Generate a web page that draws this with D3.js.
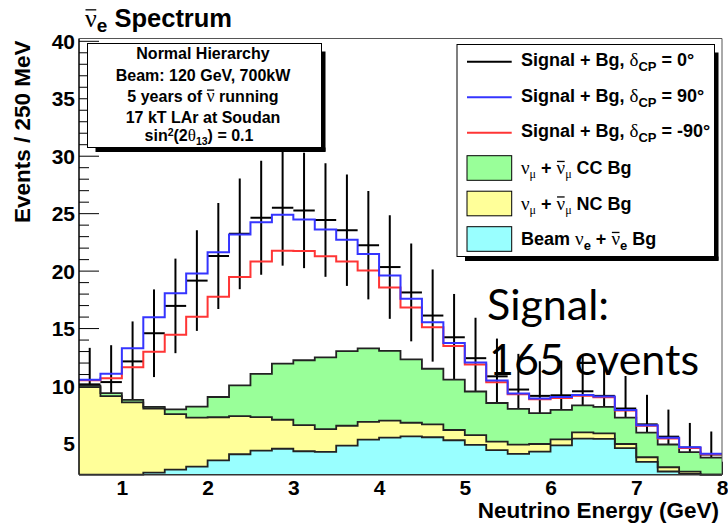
<!DOCTYPE html>
<html>
<head>
<meta charset="utf-8">
<script src="https://cdn.jsdelivr.net/npm/d3@7"></script>
<style>
  html, body { margin: 0; padding: 0; background: #fff; }
  svg { display: block; }
</style>
</head>
<body>
<svg id="chart" width="728" height="525"></svg>
<script>
// ---- Binning: 30 bins of 250 MeV between 0.5 and 8 GeV ----
const binEdges = [0.5, 0.75, 1.0, 1.25, 1.5, 1.75, 2.0, 2.25, 2.5, 2.75, 3.0, 3.25, 3.5, 3.75,
  4.0, 4.25, 4.5, 4.75, 5.0, 5.25, 5.5, 5.75, 6.0, 6.25, 6.5, 6.75, 7.0, 7.25, 7.5, 7.75, 8.0];

// ---- Background components (events per bin) ----
const beamNueBg = [1.0, 1.3, 1.8, 2.42, 2.68, 2.94, 3.49, 4.02, 4.34, 4.50, 4.28, 4.23, 4.77, 5.29, 5.46,
  5.58, 5.50, 5.24, 4.83, 4.37, 4.05, 4.25, 4.80, 5.38, 5.35, 4.55, 3.36, 2.52, 2.30, 1.60];
const ncBg = [8.86, 7.78, 6.73, 5.58, 4.84, 4.26, 3.75, 3.31, 2.91, 2.52, 2.28, 1.97, 1.73, 1.55, 1.48,
  1.18, 1.12, 0.89, 0.86, 0.74, 0.80, 0.66, 0.52, 0.55, 0.49, 0.36, 0.40, 0.37, 0.20, 0.55];
const ccBg = [0.14, 0.26, 0.22, 0.14, 0.41, 0.96, 1.76, 2.69, 3.76, 4.88, 5.64, 6.25, 6.49, 6.39, 6.08,
  5.51, 4.84, 4.39, 3.79, 3.37, 3.12, 2.69, 2.56, 2.35, 2.30, 2.29, 2.14, 1.98, 1.70, 1.58];

// ---- Signal + background totals for three values of delta_CP ----
const sigBgDcp0 = [10.1, 10.3, 12.1, 14.55, 16.93, 19.13, 21.27, 23.2, 24.6, 25.48, 25.24, 24.4, 23.52, 22.21, 20.31,
  18.1, 16.09, 14.2, 12.38, 10.8, 9.65, 9.1, 9.15, 9.5, 9.1, 8.0, 6.62, 5.55, 4.6, 4.0];
const sigBgDcp90 = [10.5, 11.02, 13.25, 15.95, 18.02, 19.76, 21.6, 23.15, 24.22, 24.87, 24.45, 23.58, 22.69, 21.45, 19.57,
  17.55, 15.5, 13.7, 12.0, 10.44, 9.3, 8.88, 9.0, 9.18, 9.04, 7.88, 6.55, 5.45, 4.62, 4.07];
const sigBgDcpM90 = [10.45, 10.63, 11.58, 12.95, 14.42, 15.98, 17.72, 19.44, 20.8, 21.72, 21.70, 21.25, 20.8, 20.0, 18.53,
  16.8, 15.07, 13.43, 11.82, 10.29, 9.25, 8.8, 8.92, 9.1, 8.98, 7.82, 6.5, 5.4, 4.56, 4.02];

// ---- Axis ticks ----
const xTicks = [1, 2, 3, 4, 5, 6, 7, 8];
const yMajorTicks = [5, 10, 15, 20, 25, 30, 35, 40];
const yMinorTicks = [3, 4, 6, 7, 8, 9, 11, 12, 13, 14, 16, 17, 18, 19, 21, 22, 23, 24, 26, 27, 28, 29,
  31, 32, 33, 34, 36, 37, 38, 39];

const SANS = "'Liberation Sans', Arial, Helvetica, sans-serif";
const SERIF = "'Liberation Serif', 'Times New Roman', serif";

const svg = d3.select("#chart");
const frame = { l: 79, r: 722, t: 38.5, b: 474.7 };

const x = d3.scaleLinear().domain([0.5, 8]).range([frame.l, frame.r]);
const y = d3.scaleLinear().domain([2.24, 40.2]).range([frame.b, frame.t]).clamp(true);

svg.append("defs").append("clipPath").attr("id", "plotClip")
  .append("rect").attr("x", frame.l).attr("y", frame.t)
  .attr("width", frame.r - frame.l).attr("height", frame.b - frame.t + 1.2);

// ---- Axes (ticks pointing into the frame) ----
const yAxisG = svg.append("g").attr("transform", `translate(${frame.l},0)`);
yAxisG.call(d3.axisLeft(y).tickValues(yMinorTicks).tickSize(-10).tickSizeOuter(0).tickFormat(""));
yAxisG.call(g => g.select(".domain").remove());
const yMajG = svg.append("g").attr("transform", `translate(${frame.l},0)`)
  .call(d3.axisLeft(y).tickValues(yMajorTicks).tickSize(-20).tickSizeOuter(0).tickPadding(4));
yMajG.select(".domain").remove();
yMajG.selectAll("text").attr("font-family", SANS).attr("font-weight", "bold")
  .attr("font-size", 21).attr("fill", "#000").attr("dy", "0.36em");
svg.selectAll(".tick line").attr("stroke", "#000");

const xAxisG = svg.append("g").attr("transform", `translate(0,${frame.b})`)
  .call(d3.axisBottom(x).tickValues(xTicks).tickSize(-13).tickSizeOuter(0).tickPadding(5.5));
xAxisG.select(".domain").remove();
xAxisG.selectAll("text").attr("font-family", SANS).attr("font-weight", "bold")
  .attr("font-size", 21).attr("fill", "#000");
xAxisG.selectAll(".tick line").attr("stroke", "#000");

// ---- Plot content ----
const plotG = svg.append("g").attr("clip-path", "url(#plotClip)");
const centers = binEdges.slice(0, -1).map((e, i) => (e + binEdges[i + 1]) / 2);

// Data points for delta_CP = 0 with statistical error bars (drawn beneath the stacked backgrounds)
const dataG = plotG.append("g").attr("stroke", "#000").attr("stroke-width", 2);
dataG.selectAll("line.err").data(sigBgDcp0).join("line").attr("class", "err")
  .attr("x1", (d, i) => x(centers[i])).attr("x2", (d, i) => x(centers[i]))
  .attr("y1", d => y(d - Math.sqrt(d))).attr("y2", d => y(d + Math.sqrt(d)));
dataG.selectAll("line.val").data(sigBgDcp0).join("line").attr("class", "val")
  .attr("x1", (d, i) => x(binEdges[i])).attr("x2", (d, i) => x(binEdges[i + 1]))
  .attr("y1", d => y(d)).attr("y2", d => y(d));

// Stacked backgrounds: beam nu_e (bottom), NC, CC (top)
const rows = centers.map((c, i) => ({ beam: beamNueBg[i], nc: ncBg[i], cc: ccBg[i] }));
const stacked = d3.stack().keys(["beam", "nc", "cc"])(rows);
const fillColor = { beam: "#99ffff", nc: "#ffff99", cc: "#99ff99" };

const stepPts = arr => {
  const pts = arr.map((d, i) => ({ x: binEdges[i], lo: d[0], hi: d[1] }));
  const last = arr[arr.length - 1];
  pts.push({ x: binEdges[binEdges.length - 1], lo: last[0], hi: last[1] });
  return pts;
};
const area = d3.area().curve(d3.curveStepAfter)
  .x(d => x(d.x)).y0(d => y(d.lo)).y1(d => y(d.hi));
const topLine = d3.line().curve(d3.curveStepAfter).x(d => x(d.x)).y(d => y(d.hi));

[...stacked].reverse().forEach(s => {
  plotG.append("path").attr("d", area(stepPts(s))).attr("fill", fillColor[s.key]).attr("stroke", "none");
});
stacked.forEach(s => {
  plotG.append("path").attr("d", topLine(stepPts(s))).attr("fill", "none")
    .attr("stroke", "#222").attr("stroke-width", 1.8);
});

// Signal + background histograms for delta_CP = -90 and +90 degrees
const histLine = d3.line().curve(d3.curveStepAfter).x(d => x(d.x)).y(d => y(d.v));
const histPts = vals => {
  const pts = vals.map((v, i) => ({ x: binEdges[i], v }));
  pts.push({ x: binEdges[binEdges.length - 1], v: vals[vals.length - 1] });
  return pts;
};
plotG.append("path").attr("d", histLine(histPts(sigBgDcpM90))).attr("fill", "none")
  .attr("stroke", "#ff3535").attr("stroke-width", 2);
plotG.append("path").attr("d", histLine(histPts(sigBgDcp90))).attr("fill", "none")
  .attr("stroke", "#3535ff").attr("stroke-width", 2);

// Frame
svg.append("line").attr("x1", frame.l).attr("x2", frame.l).attr("y1", frame.t).attr("y2", frame.b)
  .attr("stroke", "#000").attr("stroke-width", 1.5);
svg.append("line").attr("x1", frame.l).attr("x2", frame.r).attr("y1", frame.b).attr("y2", frame.b)
  .attr("stroke", "#333").attr("stroke-width", 1.5);
svg.append("line").attr("x1", frame.l).attr("x2", frame.r).attr("y1", frame.t).attr("y2", frame.t)
  .attr("stroke", "#555").attr("stroke-width", 1);
svg.append("line").attr("x1", frame.r).attr("x2", frame.r).attr("y1", frame.t).attr("y2", frame.b)
  .attr("stroke", "#555").attr("stroke-width", 1);

// ---- Rich text helper: mixes bold sans, serif Greek, sub/superscripts and overbars ----
function rich(g, x0, y0, parts, anchor) {
  const t = g.append("text").attr("x", x0).attr("y", y0)
    .attr("text-anchor", anchor || "start").attr("fill", "#000");
  let shift = 0, idx = 0;
  const bars = [];
  parts.forEach(p => {
    const s = t.append("tspan").text(p.t)
      .attr("font-family", p.serif ? SERIF : SANS)
      .attr("font-weight", p.serif ? "normal" : "bold")
      .attr("font-size", p.size);
    const target = p.dy || 0;
    if (target !== shift) { s.attr("dy", target - shift); shift = target; }
    if (p.bar) bars.push({ idx, size: p.size, dy: target });
    idx += [...p.t].length;
  });
  const node = t.node();
  bars.forEach(b => {
    const s = node.getStartPositionOfChar(b.idx);
    const e = node.getEndPositionOfChar(b.idx);
    const yb = y0 + b.dy - b.size * 0.66;
    g.append("line").attr("x1", s.x + 0.5).attr("x2", e.x - 0.5)
      .attr("y1", yb).attr("y2", yb).attr("stroke", "#000").attr("stroke-width", 1.3);
  });
  return t;
}

// ---- Titles ----
rich(svg, 85, 27, [
  { t: "ν", serif: true, size: 26, bar: true },
  { t: "e", size: 19, dy: 5 },
  { t: " Spectrum", size: 25.5 }
]);
svg.append("text").attr("transform", `translate(30,40.5) rotate(-90)`)
  .attr("text-anchor", "end").attr("font-family", SANS).attr("font-weight", "bold")
  .attr("font-size", 22.5).attr("fill", "#000").text("Events / 250 MeV");
svg.append("text").attr("x", 719).attr("y", 518).attr("text-anchor", "end")
  .attr("font-family", SANS).attr("font-weight", "bold").attr("font-size", 22.5)
  .attr("fill", "#000").text("Neutrino Energy (GeV)");

// ---- Boxes with drop shadow ----
function shadowBox(g, x0, y0, w, h) {
  g.append("rect").attr("x", x0 + w).attr("y", y0 + 8).attr("width", 4).attr("height", h - 4).attr("fill", "#000");
  g.append("rect").attr("x", x0 + 8).attr("y", y0 + h).attr("width", w - 4).attr("height", 4.5).attr("fill", "#000");
  g.append("rect").attr("x", x0).attr("y", y0).attr("width", w).attr("height", h)
    .attr("fill", "#fff").attr("stroke", "#000").attr("stroke-width", 1);
}

// Run conditions box
const infoG = svg.append("g");
shadowBox(infoG, 87.5, 43.5, 234, 104);
const infoX = 203;
rich(infoG, infoX, 59.3, [{ t: "Normal Hierarchy", size: 16 }], "middle");
rich(infoG, infoX, 80.8, [{ t: "Beam: 120 GeV, 700kW", size: 16 }], "middle");
rich(infoG, infoX, 102, [
  { t: "5 years of ", size: 16 }, { t: "ν", serif: true, size: 18, bar: true }, { t: " running", size: 16 }
], "middle");
rich(infoG, infoX, 122.5, [{ t: "17 kT LAr at Soudan", size: 16 }], "middle");
rich(infoG, infoX - 4, 140.5, [
  { t: "sin", size: 16 }, { t: "2", size: 10.5, dy: -5 }, { t: "(2", size: 16 },
  { t: "θ", serif: true, size: 17 }, { t: "13", size: 10.5, dy: 4 }, { t: ") = 0.1", size: 16 }
], "middle");

// Legend
const legG = svg.append("g");
shadowBox(legG, 457, 44.5, 257.5, 212);
const rowY = [61.7, 97.3, 132.7, 168, 203.5, 239];
const sx0 = 467, sx1 = 511.7, tx = 521;
[["#000", "0°"], ["#3535ff", "90°"], ["#ff3535", "-90°"]].forEach(([col, ang], i) => {
  legG.append("line").attr("x1", sx0).attr("x2", sx1).attr("y1", rowY[i]).attr("y2", rowY[i])
    .attr("stroke", col).attr("stroke-width", 2);
  rich(legG, tx, rowY[i] + 4.5, [
    { t: "Signal + Bg, ", size: 18 }, { t: "δ", serif: true, size: 19 },
    { t: "CP", size: 13, dy: 5 }, { t: " = " + ang, size: 18 }
  ]);
});
[["cc", " CC Bg"], ["nc", " NC Bg"]].forEach(([key, lab], j) => {
  const yy = rowY[3 + j];
  legG.append("rect").attr("x", sx0).attr("y", yy - 12.3).attr("width", sx1 - sx0).attr("height", 24.6)
    .attr("fill", fillColor[key]).attr("stroke", "#000").attr("stroke-width", 1);
  rich(legG, tx, yy + 6, [
    { t: "ν", serif: true, size: 19 }, { t: "μ", serif: true, size: 12, dy: 4 },
    { t: " + ", size: 18 }, { t: "ν", serif: true, size: 19, bar: true },
    { t: "μ", serif: true, size: 12, dy: 4 }, { t: lab, size: 18 }
  ]);
});
{
  const yy = rowY[5];
  legG.append("rect").attr("x", sx0).attr("y", yy - 12.3).attr("width", sx1 - sx0).attr("height", 24.6)
    .attr("fill", fillColor.beam).attr("stroke", "#000").attr("stroke-width", 1);
  rich(legG, tx, yy + 6, [
    { t: "Beam ", size: 18 }, { t: "ν", serif: true, size: 19 }, { t: "e", size: 13, dy: 5 },
    { t: " + ", size: 18 }, { t: "ν", serif: true, size: 19, bar: true }, { t: "e", size: 13, dy: 5 },
    { t: " Bg", size: 18 }
  ]);
}

// ---- Signal count annotation ----
const note = svg.append("text").attr("font-family", "Lato, 'Open Sans', sans-serif")
  .attr("font-size", 43).attr("fill", "#000");
note.append("tspan").attr("x", 487).attr("y", 320).text("Signal:");
note.append("tspan").attr("x", 489).attr("y", 375).text("165 events");
</script>
</body>
</html>
